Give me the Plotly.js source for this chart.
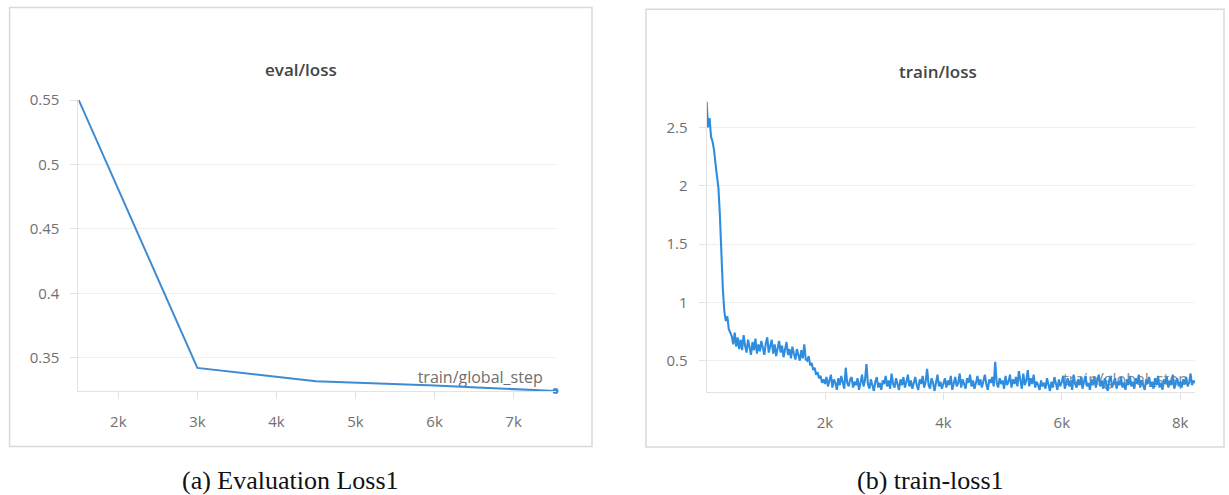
<!DOCTYPE html>
<html>
<head>
<meta charset="utf-8">
<script src="https://cdn.plot.ly/plotly-3.0.1.min.js"></script>
<style>html,body{margin:0;padding:0;background:#fff;}#chart{width:1229px;height:495px;}</style>
</head>
<body>
<div id="chart"></div>
<script>
// ---------- data ----------
const evalSteps = [1500, 3000, 4500, 6000, 7530];
const evalLoss = [0.55, 0.3422, 0.3319, 0.3285, 0.3243];

const trainFirstStep = 0;
const trainStepInterval = 25;
const trainLoss = [
  2.72, 2.50, 2.58, 2.42, 2.38, 2.31, 2.19, 2.07, 1.98, 1.74, 1.37, 1.11, 0.92, 0.84, 0.88, 0.77, 0.74,
  0.71, 0.64, 0.74, 0.62, 0.70, 0.60, 0.68, 0.59, 0.72, 0.63, 0.57, 0.68, 0.61, 0.55, 0.66, 0.59, 0.69,
  0.56, 0.64, 0.58, 0.67, 0.60, 0.55, 0.65, 0.70, 0.57, 0.63, 0.68, 0.56, 0.64, 0.54, 0.62, 0.67, 0.57,
  0.63, 0.53, 0.61, 0.66, 0.55, 0.60, 0.52, 0.62, 0.56, 0.51, 0.60, 0.54, 0.50, 0.59, 0.52, 0.64, 0.51,
  0.50, 0.54, 0.46, 0.48, 0.42, 0.44, 0.38, 0.40, 0.35, 0.37, 0.31, 0.34,
  0.30, 0.36, 0.28, 0.33, 0.38, 0.27, 0.34, 0.31, 0.25, 0.35, 0.29, 0.37, 0.30, 0.26, 0.44, 0.31, 0.28, 0.34, 0.36, 0.27,
  0.32, 0.29, 0.35, 0.25, 0.31, 0.38, 0.28, 0.33, 0.47, 0.30, 0.26, 0.34, 0.29, 0.24, 0.32, 0.36, 0.27, 0.31, 0.25, 0.33,
  0.30, 0.37, 0.28, 0.33, 0.26, 0.39, 0.30, 0.27, 0.35, 0.31, 0.25, 0.34, 0.29, 0.36, 0.27, 0.32, 0.38, 0.28, 0.33, 0.26,
  0.31, 0.36, 0.29, 0.25, 0.34, 0.30, 0.37, 0.27, 0.32, 0.43, 0.29, 0.26, 0.35, 0.31, 0.24, 0.33, 0.38, 0.28, 0.32, 0.26,
  0.30, 0.35, 0.27, 0.33, 0.29, 0.37, 0.25, 0.32, 0.36, 0.28, 0.31, 0.39, 0.27, 0.34, 0.30, 0.26, 0.35, 0.31, 0.38, 0.28,
  0.33, 0.26, 0.31, 0.37, 0.29, 0.34, 0.27, 0.32, 0.38, 0.30, 0.25, 0.34, 0.31, 0.36, 0.28, 0.49, 0.31, 0.27, 0.35, 0.30,
  0.33, 0.26, 0.37, 0.29, 0.32, 0.38, 0.27, 0.34, 0.30, 0.36, 0.28, 0.41, 0.31, 0.26, 0.39, 0.29, 0.33, 0.42, 0.28, 0.35,
  0.30, 0.38, 0.27, 0.32, 0.29, 0.25, 0.33, 0.28, 0.31, 0.26, 0.35, 0.29, 0.24, 0.32, 0.27, 0.36, 0.30, 0.25, 0.34, 0.28,
  0.32, 0.37, 0.26, 0.31, 0.35, 0.28, 0.33, 0.25, 0.38, 0.30, 0.27, 0.34, 0.29, 0.36, 0.26, 0.32, 0.37, 0.28, 0.31, 0.25,
  0.34, 0.29, 0.36, 0.27, 0.32, 0.38, 0.28, 0.33, 0.26, 0.35, 0.30, 0.24, 0.33, 0.37, 0.27, 0.31, 0.35, 0.26, 0.32, 0.29,
  0.36, 0.27, 0.31, 0.25, 0.34, 0.29, 0.37, 0.28, 0.32, 0.26, 0.35, 0.30, 0.38, 0.27, 0.33, 0.29, 0.25, 0.34, 0.30, 0.36,
  0.28, 0.32, 0.26, 0.35, 0.29, 0.37, 0.27, 0.31, 0.25, 0.34, 0.30, 0.36, 0.27, 0.33, 0.29, 0.38, 0.26, 0.31, 0.35, 0.28,
  0.32, 0.27, 0.34, 0.30, 0.36, 0.28, 0.31, 0.39, 0.29, 0.33, 0.31
];

const evalXTicks = [2000, 3000, 4000, 5000, 6000, 7000];
const evalXTickText = ['2k', '3k', '4k', '5k', '6k', '7k'];
const evalYTicks = [0.35, 0.4, 0.45, 0.5, 0.55];
const evalYTickText = ['0.35', '0.4', '0.45', '0.5', '0.55'];
const trainXTicks = [2000, 4000, 6000, 8000];
const trainXTickText = ['2k', '4k', '6k', '8k'];
const trainYTicks = [0.5, 1, 1.5, 2, 2.5];
const trainYTickText = ['0.5', '1', '1.5', '2', '2.5'];

const evalTitle = 'eval/loss';
const trainTitle = 'train/loss';
const xLabel = 'train/global_step';
const captionA = '(a) Evaluation Loss1';
const captionB = '(b) train-loss1';

// ---------- helpers ----------
const W = 1229, H = 495;
const px = v => v / W;
const py = v => 1 - v / H;

const tickFont = {family: 'Open Sans, Noto Sans, sans-serif', size: 15, color: '#707070'};
const axisCommon = {
  showline: true, linecolor: '#e3e3e3', linewidth: 1,
  ticks: 'outside', tickcolor: '#e3e3e3', ticklen: 7, tickwidth: 1,
  tickfont: tickFont, zeroline: false, fixedrange: true, tickmode: 'array'
};

const traces = [
  {x: evalSteps, y: evalLoss, xaxis: 'x', yaxis: 'y', type: 'scatter', mode: 'lines',
   line: {color: '#3f8bd1', width: 2}, cliponaxis: false, hoverinfo: 'skip'},
  {x: [evalSteps[evalSteps.length - 1]], y: [evalLoss[evalLoss.length - 1]], xaxis: 'x', yaxis: 'y',
   type: 'scatter', mode: 'markers', marker: {color: '#3f8bd1', size: 6}, cliponaxis: false, hoverinfo: 'skip'},
  {x0: trainFirstStep, dx: trainStepInterval, y: trainLoss, xaxis: 'x2', yaxis: 'y2', type: 'scatter', mode: 'lines',
   line: {color: '#2f8de0', width: 2.1}, cliponaxis: true, hoverinfo: 'skip'}
];

const layout = {
  width: W, height: H,
  margin: {l: 0, r: 0, t: 0, b: 0, pad: 0},
  paper_bgcolor: '#ffffff', plot_bgcolor: 'rgba(0,0,0,0)',
  showlegend: false,
  xaxis: Object.assign({}, axisCommon, {
    domain: [px(78.3), px(555.5)], range: [1494, 7530], anchor: 'y',
    tickvals: evalXTicks, ticktext: evalXTickText, showgrid: false, ticklabelstandoff: 10
  }),
  yaxis: Object.assign({}, axisCommon, {
    domain: [py(391), py(99.4)], range: [0.3243, 0.5505], anchor: 'x',
    tickvals: evalYTicks, ticktext: evalYTickText, showgrid: true, gridcolor: '#f0f0f0', ticklabelstandoff: 8
  }),
  xaxis2: Object.assign({}, axisCommon, {
    domain: [px(706.6), px(1195)], range: [0, 8250], anchor: 'y2',
    tickvals: trainXTicks, ticktext: trainXTickText, showgrid: false, ticklabelstandoff: 10
  }),
  yaxis2: Object.assign({}, axisCommon, {
    domain: [py(391.5), py(100.9)], range: [0.236, 2.727], anchor: 'x2',
    tickvals: trainYTicks, ticktext: trainYTickText, showgrid: true, gridcolor: '#f0f0f0', ticklabelstandoff: 8
  }),
  shapes: [
    {type: 'rect', xref: 'paper', yref: 'paper', x0: px(9.6), x1: px(592), y0: py(446.5), y1: py(7.5),
     line: {color: '#d9d9d9', width: 1.5}, fillcolor: 'rgba(0,0,0,0)', layer: 'below'},
    {type: 'rect', xref: 'paper', yref: 'paper', x0: px(646), x1: px(1224), y0: py(447), y1: py(9.3),
     line: {color: '#d9d9d9', width: 1.5}, fillcolor: 'rgba(0,0,0,0)', layer: 'below'},
    {type: 'rect', xref: 'paper', yref: 'paper', x0: px(380), x1: px(545.7), y0: py(386), y1: py(369.5),
     line: {width: 0}, fillcolor: 'rgba(0,0,0,0)', layer: 'below',
     label: {text: xLabel, textposition: 'middle right', padding: 0,
             font: {family: 'Open Sans, Noto Sans, sans-serif', size: 16, color: '#6e6e6e'}}},
    {type: 'rect', xref: 'paper', yref: 'paper', x0: px(1025), x1: px(1191), y0: py(388), y1: py(371.5),
     line: {width: 0}, fillcolor: 'rgba(0,0,0,0)', layer: 'below',
     label: {text: xLabel, textposition: 'middle right', padding: 0,
             font: {family: 'Open Sans, Noto Sans, sans-serif', size: 16, color: '#8a8a8a'}}}
  ],
  annotations: [
    {text: evalTitle, xref: 'paper', yref: 'paper', x: px(301), y: py(69.5), xanchor: 'center', yanchor: 'middle',
     showarrow: false, font: {family: 'Open Sans, Noto Sans, sans-serif', size: 17, color: '#444444', weight: 600}},
    {text: trainTitle, xref: 'paper', yref: 'paper', x: px(938), y: py(71), xanchor: 'center', yanchor: 'middle',
     showarrow: false, font: {family: 'Open Sans, Noto Sans, sans-serif', size: 17, color: '#444444', weight: 600}},
    {text: captionA, xref: 'paper', yref: 'paper', x: px(290), y: py(480), xanchor: 'center', yanchor: 'middle',
     showarrow: false, font: {family: 'Liberation Serif, Times New Roman, serif', size: 26, color: '#111111'}},
    {text: captionB, xref: 'paper', yref: 'paper', x: px(930), y: py(480), xanchor: 'center', yanchor: 'middle',
     showarrow: false, font: {family: 'Liberation Serif, Times New Roman, serif', size: 26, color: '#111111'}}
  ]
};

Plotly.newPlot('chart', traces, layout, {staticPlot: true, displayModeBar: false});
</script>
</body>
</html>
